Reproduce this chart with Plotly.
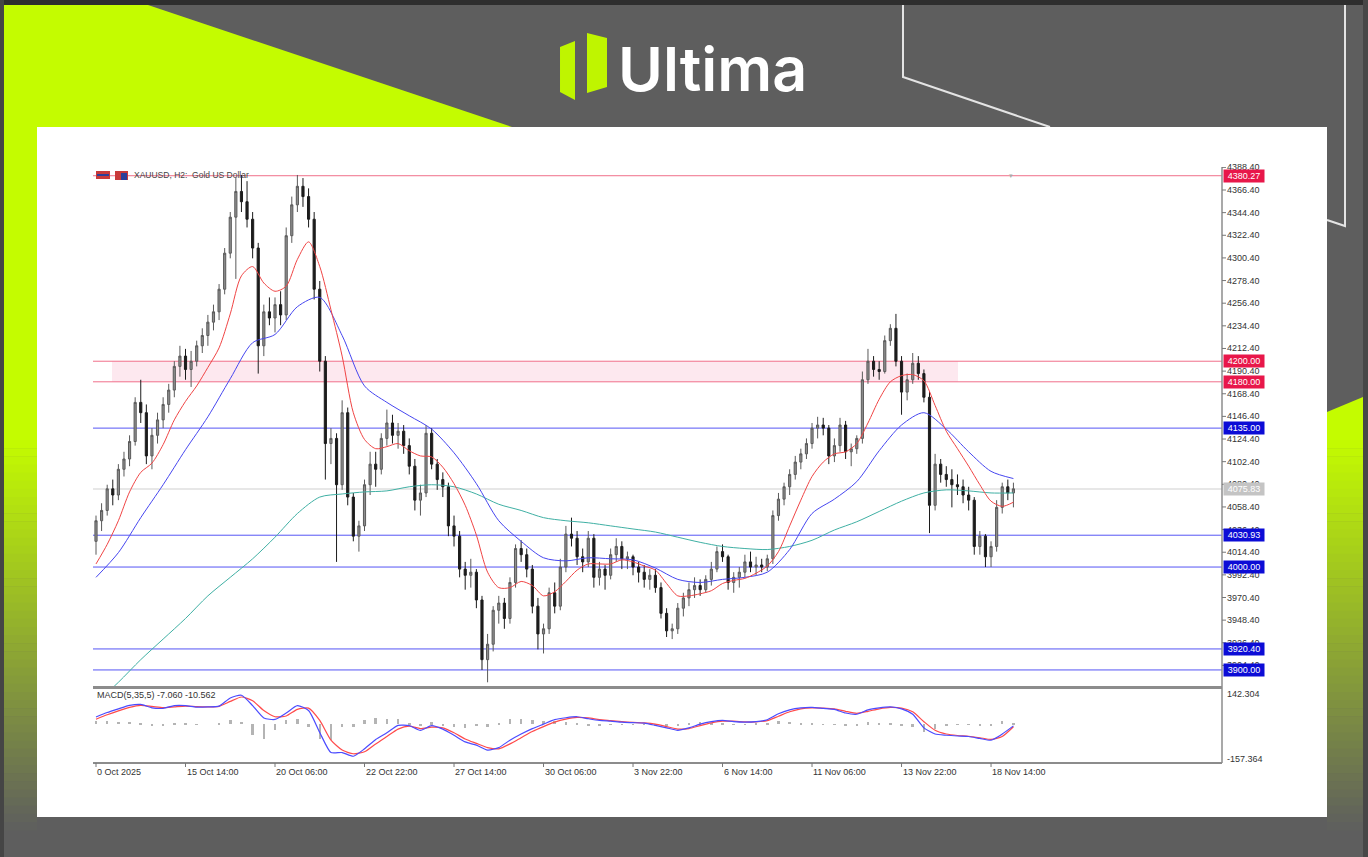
import plotly.graph_objects as go

W, H = 1368, 857


def px(x):
    return x / W


def py(y):
    return 1 - y / H


# ---------------- data ----------------
symbol_title = "XAUUSD, H2:  Gold US Dollar"
macd_title = "MACD(5,35,5) -7.060 -10.562"

time_labels = ["0 Oct 2025", "15 Oct 14:00", "20 Oct 06:00", "22 Oct 22:00", "27 Oct 14:00",
               "30 Oct 06:00", "3 Nov 22:00", "6 Nov 14:00", "11 Nov 06:00", "13 Nov 22:00",
               "18 Nov 14:00"]
time_label_bars = [0, 16, 32, 48, 64, 80, 96, 112, 128, 144, 160]

opens = [4025, 4045, 4055, 4076, 4070, 4095, 4105, 4122, 4160, 4150,
         4108, 4128, 4143, 4158, 4172, 4195, 4205, 4192, 4200, 4215,
         4225, 4238, 4248, 4270, 4305, 4340, 4365, 4355, 4338, 4310,
         4215, 4248, 4242, 4255, 4245, 4322, 4352, 4370, 4360, 4338,
         4270, 4200, 4120, 4125, 4080, 4150, 4068, 4030, 4040, 4080,
         4100, 4095, 4125, 4140, 4128, 4132, 4118, 4098, 4065, 4072,
         4130, 4100, 4085, 4078, 4040, 4030, 3998, 3992, 3995, 3968,
         3910, 3925, 3958, 3965, 3950, 3985, 4018, 4012, 3998, 3962,
         3935, 3940, 3975, 3962, 4000, 4032, 4028, 4010, 4005, 4028,
         3990, 3998, 3992, 4012, 4020, 4008, 4010, 4000, 3995, 3988,
         3992, 3980, 3955, 3938, 3940, 3960, 3970, 3978, 3982, 3978,
         3988, 3998, 4015, 4010, 3985, 3990, 3995, 4005, 4000, 4002,
         4000, 4008, 4050, 4066, 4078, 4090, 4102, 4110, 4120, 4135,
         4138, 4135, 4108, 4118, 4138, 4112, 4115, 4125, 4182, 4200,
         4192, 4190, 4220, 4232, 4200, 4170, 4182, 4198, 4188, 4165,
         4060, 4100, 4090, 4085, 4080, 4078, 4070, 4065, 4020, 4030,
         4010, 4020, 4058, 4078, 4072]
highs = [4050, 4062, 4080, 4085, 4100, 4112, 4128, 4165, 4182, 4158,
         4135, 4150, 4165, 4178, 4200, 4215, 4212, 4210, 4220, 4232,
         4245, 4255, 4275, 4310, 4345, 4378, 4381, 4375, 4345, 4315,
         4255, 4262, 4262, 4268, 4330, 4360, 4381, 4378, 4368, 4345,
         4278, 4205, 4135, 4130, 4162, 4155, 4072, 4045, 4085, 4112,
         4112, 4130, 4153, 4148, 4140, 4138, 4125, 4105, 4080, 4138,
         4135, 4105, 4092, 4082, 4050, 4035, 4005, 4008, 3998, 3972,
         3935, 3962, 3972, 3970, 3990, 4022, 4026, 4018, 4002, 3970,
         3945, 3980, 3985, 4008, 4040, 4048, 4035, 4018, 4035, 4032,
         4005, 4002, 4018, 4028, 4025, 4015, 4012, 4005, 4002, 3998,
         3998, 3985, 3960, 3945, 3965, 3975, 3985, 3990, 3988, 3992,
         4005, 4020, 4022, 4012, 3995, 4000, 4012, 4015, 4010, 4008,
         4012, 4055, 4072, 4082, 4095, 4108, 4115, 4125, 4140, 4146,
         4145, 4138, 4125, 4145, 4142, 4120, 4128, 4190, 4212, 4205,
         4200, 4225, 4236, 4246, 4205, 4188, 4208, 4205, 4192, 4170,
         4110, 4105, 4098, 4095, 4090, 4085, 4078, 4068, 4035, 4032,
         4025, 4065, 4082, 4085, 4082]
lows = [4012, 4035, 4050, 4060, 4065, 4088, 4098, 4118, 4140, 4100,
        4095, 4120, 4135, 4150, 4165, 4185, 4182, 4175, 4195, 4208,
        4215, 4230, 4240, 4265, 4300, 4280, 4345, 4330, 4300, 4188,
        4205, 4235, 4228, 4235, 4240, 4315, 4345, 4350, 4330, 4260,
        4190, 4085, 4100, 4005, 4075, 4060, 4025, 4015, 4035, 4070,
        4078, 4090, 4118, 4120, 4115, 4110, 4090, 4055, 4050, 4068,
        4095, 4075, 4068, 4030, 4020, 3990, 3978, 3980, 3960, 3900,
        3888, 3918, 3945, 3940, 3945, 3980, 4005, 3990, 3955, 3920,
        3916, 3935, 3955, 3958, 3995, 4020, 4002, 3995, 4000, 3980,
        3982, 3978, 3988, 4005, 3998, 3998, 3992, 3985, 3980, 3978,
        3975, 3950, 3932, 3930, 3935, 3952, 3962, 3970, 3972, 3975,
        3982, 3995, 4005, 3978, 3975, 3980, 3990, 3995, 3992, 3995,
        3996, 4003, 4045, 4060, 4070, 4085, 4095, 4105, 4115, 4125,
        4128, 4100, 4102, 4112, 4105, 4098, 4110, 4120, 4178, 4185,
        4182, 4188, 4215, 4195, 4148, 4162, 4178, 4182, 4160, 4033,
        4055, 4082, 4078, 4058, 4070, 4062, 4055, 4012, 4012, 4000,
        4000, 4015, 4052, 4065, 4058]
closes = [4045, 4055, 4076, 4070, 4095, 4105, 4122, 4160, 4150, 4108,
          4128, 4143, 4158, 4172, 4195, 4205, 4192, 4200, 4215, 4225,
          4238, 4248, 4270, 4305, 4340, 4365, 4355, 4338, 4310, 4215,
          4248, 4242, 4255, 4245, 4322, 4352, 4370, 4360, 4338, 4270,
          4200, 4120, 4125, 4080, 4150, 4068, 4030, 4040, 4080, 4100,
          4095, 4125, 4140, 4128, 4132, 4118, 4098, 4065, 4072, 4130,
          4100, 4085, 4078, 4040, 4030, 3998, 3992, 3995, 3968, 3910,
          3925, 3958, 3965, 3950, 3985, 4018, 4012, 3998, 3962, 3935,
          3940, 3975, 3962, 4000, 4032, 4028, 4010, 4005, 4028, 3990,
          3998, 3992, 4012, 4020, 4008, 4010, 4000, 3995, 3988, 3992,
          3980, 3955, 3938, 3940, 3960, 3970, 3978, 3982, 3978, 3988,
          3998, 4015, 4010, 3985, 3990, 3995, 4005, 4000, 4002, 4000,
          4008, 4050, 4066, 4078, 4090, 4102, 4110, 4120, 4135, 4138,
          4135, 4108, 4118, 4138, 4112, 4115, 4125, 4182, 4200, 4192,
          4190, 4220, 4232, 4200, 4170, 4182, 4198, 4188, 4165, 4060,
          4100, 4090, 4085, 4080, 4078, 4070, 4065, 4020, 4030, 4010,
          4020, 4058, 4078, 4072, 4076]
bars = list(range(len(closes)))

# moving averages
fast_bars = list(range(0, 165, 2))
ma_fast = [4003, 4022, 4045, 4073, 4092, 4101, 4119, 4143, 4161, 4176,
           4194, 4213, 4246, 4283, 4292, 4276, 4268, 4273, 4299, 4316,
           4292, 4250, 4205, 4150, 4124, 4115, 4117, 4120, 4113, 4108,
           4107, 4097, 4081, 4060, 4031, 3995, 3980, 3980, 3986, 3982,
           3972, 3976, 3986, 3997, 4003, 4003, 4003, 4007, 4005, 4001,
           3997, 3984, 3972, 3972, 3974, 3977, 3984, 3987, 3989, 3994,
           4001, 4015, 4040, 4065, 4088, 4102, 4110, 4112, 4120, 4140,
           4163, 4180, 4186, 4187, 4181, 4157, 4132, 4115, 4098, 4080,
           4064, 4059, 4063]
slow_bars = list(range(0, 165, 4))
ma_mid = [3990, 4014, 4048, 4080, 4114, 4146, 4183, 4218, 4226, 4253,
          4262, 4225, 4176, 4160, 4147, 4134, 4111, 4081, 4045, 4025,
          4009, 4006, 4009, 4008, 4007, 3999, 3988, 3985, 3988, 3990,
          3995, 4017, 4052, 4066, 4083, 4113, 4138, 4150, 4134, 4112,
          4093, 4086]
ma_long = [3868, 3888, 3910, 3930, 3950, 3972, 3990, 4008, 4029, 4052,
           4068, 4071, 4073, 4074, 4078, 4080, 4078, 4071, 4061, 4055,
           4048, 4045, 4043, 4040, 4037, 4034, 4029, 4024, 4020, 4018,
           4017, 4020, 4026, 4036, 4044, 4054, 4064, 4072, 4075, 4074,
           4072, 4072]

# MACD pane
macd_bars = list(range(0, 165, 2))
macd_main = [29, 47, 62, 76, 80, 66, 64, 75, 75, 69,
             70, 73, 106, 117, 75, 25, 19, 45, 75, 55,
             -34, -115, -115, -130, -100, -62, -35, -5, -6, -25,
             -6, -20, -45, -72, -85, -105, -95, -65, -40, -18,
             0, 18, 26, 30, 22, 15, 12, 8, 6, 4,
             -5, -15, -25, -15, 0, 10, 15, 10, 8, 10,
             18, 42, 58, 66, 68, 64, 60, 45, 40, 58,
             66, 70, 62, 40, -15, -40, -45, -48, -50, -58,
             -65, -40, -7.06]
macd_signal = [20, 38, 54, 68, 76, 72, 67, 70, 73, 71,
               70, 72, 92, 110, 95, 55, 30, 33, 60, 65,
               15, -65, -105, -120, -112, -80, -50, -20, -8, -18,
               -12, -15, -35, -60, -78, -95, -100, -80, -55, -30,
               -10, 8, 20, 27, 25, 18, 14, 10, 7, 5,
               0, -10, -20, -18, -6, 5, 12, 12, 9, 9,
               14, 32, 50, 62, 66, 65, 62, 52, 44, 52,
               62, 68, 65, 50, 10, -25, -40, -46, -49, -55,
               -62, -50, -10.562]
macd_hist = [12, 12, 10, 10, 5, -8, -4, 6, 3, -2,
             0, 1, 18, 9, -45, -60, -25, 15, 20, -12,
             -60, -65, -13, -13, 16, 23, 19, 19, 2, -9,
             8, -6, -13, -15, -9, -13, 6, 19, 19, 15,
             13, 13, 8, 4, -4, -4, -2, -2, -1, -1,
             -6, -6, -6, 4, 8, 6, 4, -2, -1, 1,
             5, 12, 10, 5, 2, -1, -2, -8, -5, 8,
             5, 3, -4, -12, -30, -18, -6, -2, -1, -4,
             -4, 12, 4]

price_ticks = [4388.40, 4366.40, 4344.40, 4322.40, 4300.40, 4278.40, 4256.40, 4234.40,
               4212.40, 4190.40, 4168.40, 4146.40, 4124.40, 4102.40, 4080.40, 4058.40,
               4036.40, 4014.40, 3992.40, 3970.40, 3948.40, 3926.40, 3904.40]
macd_scale = [142.304, -157.364]

red_levels = [4380.27, 4200.00, 4180.00]
blue_levels = [4135.00, 4030.93, 4000.00, 3920.40, 3900.00]
bid_level = 4075.83
zone_low, zone_high = 4180.00, 4200.00

# ---------------- styling / geometry ----------------
PLOT_L, PLOT_R = 93, 1222
PRICE_T, PRICE_B = 167, 686
MACD_T, MACD_B = 689, 763
BAR_X0, BAR_DX = 96.0, 5.594          # pixel of bar 0, pixels per bar
X_RANGE = [(PLOT_L - BAR_X0) / BAR_DX, (PLOT_R - BAR_X0) / BAR_DX]
Y_RANGE = [3884.4, 4388.75]
MACD_RANGE = [macd_scale[1], macd_scale[0]]

BG = "#5e5e5e"
LIME = (196, 252, 0)
GRAY = (94, 94, 94)
AXIS_FONT = "Liberation Sans, Arial, sans-serif"

shapes = []
annotations = []


def rect(x0, y0, x1, y1, color):
    shapes.append(dict(type="rect", xref="paper", yref="paper", x0=px(x0), x1=px(x1),
                       y0=py(y1), y1=py(y0), fillcolor=color, line=dict(width=0), layer="below"))


def path_of(points, close=True):
    s = "M " + " L ".join(f"{px(x):.5f},{py(y):.5f}" for x, y in points)
    return s + (" Z" if close else "")


def poly(points, color):
    shapes.append(dict(type="path", xref="paper", yref="paper", path=path_of(points),
                       fillcolor=color, line=dict(width=0), layer="below"))


def polyline(points, color, width):
    shapes.append(dict(type="path", xref="paper", yref="paper", path=path_of(points, False),
                       fillcolor="rgba(0,0,0,0)", line=dict(color=color, width=width), layer="below"))


def mix(c1, c2, t):
    return "rgb({},{},{})".format(*[round(a + (b - a) * t) for a, b in zip(c1, c2)])


lime = mix(LIME, LIME, 0)

# frame / decoration
rect(0, 0, W, 5, "#2e2e2e")
rect(0, 0, 4, H, "#454545")
rect(1363, 0, W, H, "#474747")
poly([(4, 5), (148, 5), (512, 127), (37, 127), (37, 440), (4, 440)], lime)
poly([(1327, 412), (1363, 397), (1363, 440), (1327, 440)], lime)
n_band = 48
y_start, y_end = 440, 830
for i in range(n_band):
    ya = y_start + (y_end - y_start) * i / n_band
    yb = y_start + (y_end - y_start) * (i + 1) / n_band + 0.6
    c = mix(LIME, GRAY, (i + 0.5) / n_band)
    rect(4, ya, 37, yb, c)
    rect(1327, ya, 1363, yb, c)
polyline([(903, 5), (903, 77), (1050, 127)], "#e4e4e4", 2)
polyline([(1345, 5), (1345, 226), (1327, 220)], "#e4e4e4", 2)
rect(37, 127, 1327, 817, "#ffffff")

# logo
poly([(560, 47), (575, 41), (575, 100), (560, 92)], "#bff500")
poly([(587, 33), (607, 38), (607, 87), (587, 93)], "#bff500")
annotations.append(dict(text="Ultima", x=px(616), y=py(69), xref="paper", yref="paper",
                        xanchor="left", yanchor="middle", showarrow=False,
                        font=dict(family="Inter, Open Sans, sans-serif", size=61, color="white",
                                  weight=600)))

# support / resistance zone and level lines
shapes.append(dict(type="rect", xref="paper", yref="y", x0=px(112), x1=px(958), y0=zone_low,
                   y1=zone_high, fillcolor="#fde8ef", line=dict(width=0), layer="below"))
shapes.append(dict(type="line", xref="paper", yref="y", x0=px(PLOT_L), x1=px(PLOT_R),
                   y0=bid_level, y1=bid_level, line=dict(color="#cfcfcf", width=1), layer="below"))
for lv in red_levels:
    shapes.append(dict(type="line", xref="paper", yref="y", x0=px(PLOT_L), x1=px(PLOT_R),
                       y0=lv, y1=lv, line=dict(color="#f0708a", width=1), layer="below"))
for lv in blue_levels:
    shapes.append(dict(type="line", xref="paper", yref="y", x0=px(PLOT_L), x1=px(PLOT_R),
                       y0=lv, y1=lv, line=dict(color="#5555f5", width=1), layer="below"))

# axis frame lines
AX = "#8c8c8c"
shapes.append(dict(type="line", xref="paper", yref="paper", x0=px(PLOT_R), x1=px(PLOT_R),
                   y0=py(PRICE_T), y1=py(MACD_B), line=dict(color=AX, width=1.5), layer="above"))
shapes.append(dict(type="line", xref="paper", yref="paper", x0=px(PLOT_L), x1=px(PLOT_R),
                   y0=py(687.5), y1=py(687.5), line=dict(color=AX, width=3), layer="above"))
shapes.append(dict(type="line", xref="paper", yref="paper", x0=px(PLOT_L), x1=px(PLOT_R),
                   y0=py(MACD_B), y1=py(MACD_B), line=dict(color=AX, width=2), layer="above"))

# price tick labels
for t in price_ticks:
    shapes.append(dict(type="line", xref="paper", yref="y", x0=px(PLOT_R), x1=px(PLOT_R + 4),
                       y0=t, y1=t, line=dict(color="#777", width=1), layer="above"))
    annotations.append(dict(text=f"{t:.2f}", x=px(PLOT_R + 3), y=t, xref="paper", yref="y",
                            xanchor="left", yanchor="middle", showarrow=False,
                            font=dict(family=AXIS_FONT, size=9, color="#333")))
# level labels (drawn on top of tick labels)
for lv in red_levels:
    annotations.append(dict(text=f"{lv:.2f}", x=px(PLOT_R + 1), y=lv, xref="paper", yref="y",
                            xanchor="left", yanchor="middle", showarrow=False, bgcolor="#e8174a",
                            borderpad=1, width=38, font=dict(family=AXIS_FONT, size=9, color="white")))
for lv in blue_levels:
    annotations.append(dict(text=f"{lv:.2f}", x=px(PLOT_R + 1), y=lv, xref="paper", yref="y",
                            xanchor="left", yanchor="middle", showarrow=False, bgcolor="#0c0cd6",
                            borderpad=1, width=38, font=dict(family=AXIS_FONT, size=9, color="white")))
annotations.append(dict(text=f"{bid_level:.2f}", x=px(PLOT_R + 1), y=bid_level, xref="paper",
                        yref="y", xanchor="left", yanchor="middle", showarrow=False,
                        bgcolor="#c4c4c4", borderpad=1, width=38,
                        font=dict(family=AXIS_FONT, size=9, color="white")))

# MACD scale labels
for v, ypix in zip(macd_scale, [694, 759]):
    annotations.append(dict(text=f"{v:.3f}", x=px(PLOT_R + 3), y=py(ypix), xref="paper",
                            yref="paper", xanchor="left", yanchor="middle", showarrow=False,
                            font=dict(family=AXIS_FONT, size=9, color="#333")))

# time labels
for b, lab in zip(time_label_bars, time_labels):
    shapes.append(dict(type="line", xref="x", yref="paper", x0=b, x1=b, y0=py(MACD_B),
                       y1=py(MACD_B + 4), line=dict(color="#777", width=1), layer="above"))
    annotations.append(dict(text=lab, x=b, y=py(772), xref="x", yref="paper", xanchor="left",
                            yanchor="middle", showarrow=False, xshift=-1,
                            font=dict(family=AXIS_FONT, size=9, color="#333")))

# chart titles
rect(96, 171, 110, 179, "#c83a3a")
rect(97, 174, 109, 176, "#2b3f9a")
rect(115, 171, 128, 180, "#c83a3a")
rect(121, 173, 127, 180, "#2b3f9a")
annotations.append(dict(text=symbol_title, x=px(132), y=py(175), xref="paper", yref="paper",
                        xanchor="left", yanchor="middle", showarrow=False,
                        font=dict(family=AXIS_FONT, size=8.5, color="#444")))
annotations.append(dict(text=macd_title, x=px(95), y=py(695), xref="paper", yref="paper",
                        xanchor="left", yanchor="middle", showarrow=False,
                        font=dict(family=AXIS_FONT, size=9, color="#333")))
annotations.append(dict(text="▾", x=px(1015), y=py(169), xref="paper", yref="paper",
                        showarrow=False, font=dict(size=7, color="#aaa")))

fig = go.Figure()
fig.add_trace(go.Scatter(x=slow_bars, y=ma_long, mode="lines", xaxis="x", yaxis="y",
                         line=dict(color="#3fb0a4", width=1, shape="spline", smoothing=0.8),
                         hoverinfo="skip"))
fig.add_trace(go.Candlestick(x=bars, open=opens, high=highs, low=lows, close=closes,
                             xaxis="x", yaxis="y", whiskerwidth=0,
                             increasing=dict(line=dict(color="#5a5a5a", width=1), fillcolor="#8e8e8e"),
                             decreasing=dict(line=dict(color="#1c1c1c", width=1), fillcolor="#1c1c1c")))
fig.add_trace(go.Scatter(x=slow_bars, y=ma_mid, mode="lines", xaxis="x", yaxis="y",
                         line=dict(color="#4646f0", width=1, shape="spline", smoothing=0.8),
                         hoverinfo="skip"))
fig.add_trace(go.Scatter(x=fast_bars, y=ma_fast, mode="lines", xaxis="x", yaxis="y",
                         line=dict(color="#f04444", width=1, shape="spline", smoothing=0.8),
                         hoverinfo="skip"))
fig.add_trace(go.Bar(x=macd_bars, y=macd_hist, xaxis="x2", yaxis="y2", width=0.45,
                     marker=dict(color="#b4b4b4", line=dict(width=0))))
fig.add_trace(go.Scatter(x=macd_bars, y=macd_signal, mode="lines", xaxis="x2", yaxis="y2",
                         line=dict(color="#ff4b4b", width=1.2, shape="spline", smoothing=0.6)))
fig.add_trace(go.Scatter(x=macd_bars, y=macd_main, mode="lines", xaxis="x2", yaxis="y2",
                         line=dict(color="#4b4bff", width=1.2, shape="spline", smoothing=0.6)))

fig.update_layout(
    width=W, height=H, autosize=False, margin=dict(l=0, r=0, t=0, b=0, pad=0),
    paper_bgcolor=BG, plot_bgcolor="rgba(0,0,0,0)", showlegend=False,
    xaxis=dict(domain=[px(PLOT_L), px(PLOT_R)], range=X_RANGE, visible=False, anchor="y",
               rangeslider=dict(visible=False), fixedrange=True),
    yaxis=dict(domain=[py(PRICE_B), py(PRICE_T)], range=Y_RANGE, visible=False, anchor="x",
               fixedrange=True),
    xaxis2=dict(domain=[px(PLOT_L), px(PLOT_R)], range=X_RANGE, visible=False, anchor="y2",
                fixedrange=True),
    yaxis2=dict(domain=[py(MACD_B), py(MACD_T)], range=MACD_RANGE, visible=False, anchor="x2",
                fixedrange=True),
    shapes=shapes, annotations=annotations, bargap=0, boxgap=0.45,
)

fig.write_html("out.html", config={"displayModeBar": False},
               post_script="document.body.style.margin='0';document.body.style.overflow='hidden';")
